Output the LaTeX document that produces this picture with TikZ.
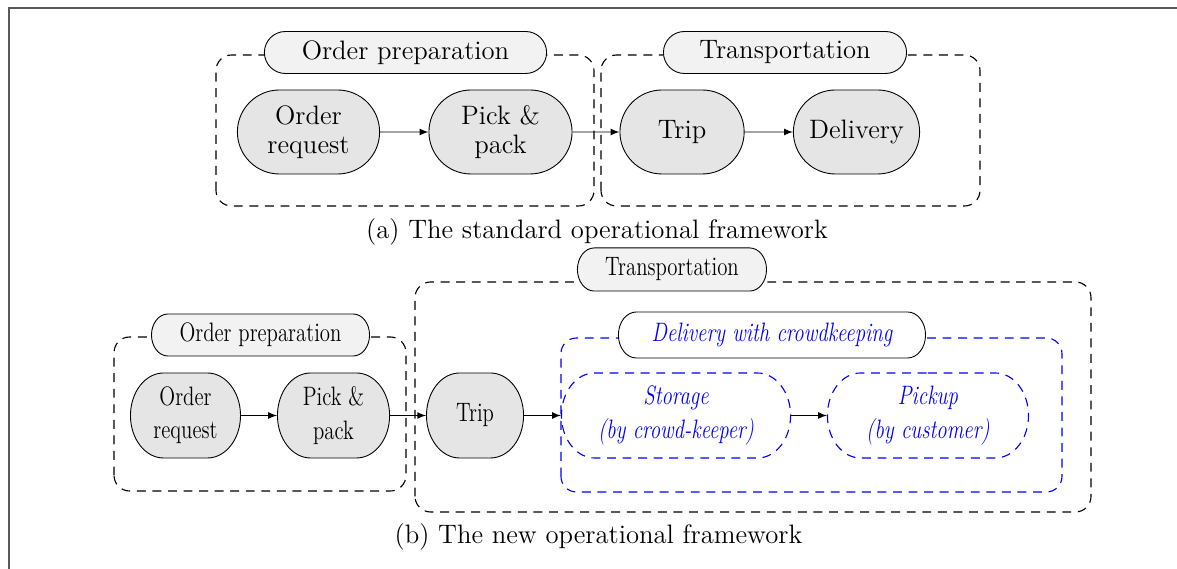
\documentclass[tikz,border=0pt]{standalone}
\usepackage{tikz}
\usetikzlibrary{arrows,shapes,positioning}
\definecolor{stagegray}{RGB}{229,229,229}
\definecolor{phasegray}{RGB}{242,242,242}
\definecolor{crowdblue}{RGB}{0,0,255}
\tikzstyle{stage} = [rounded rectangle, minimum height=37.8pt, inner sep=2pt, align=center, draw=black, fill=stagegray]
\tikzstyle{substage} = [rounded rectangle, minimum height=38.25pt, inner sep=2pt, align=center, draw=crowdblue, line width=0.5pt, dash pattern=on 4pt off 3pt, text=crowdblue, font=\fontsize{12}{15}\selectfont\itshape]
\tikzstyle{phase} = [rounded rectangle, minimum height=18.9pt, inner sep=2pt, draw=black, fill=phasegray]
\tikzstyle{group} = [draw, line width=0.5pt, dash pattern=on 4pt off 3pt, rounded corners=7pt]
\tikzstyle{arrow} = [thin,->,>=latex]

\begin{document}
\begin{tikzpicture}[x=0.45pt, y=0.45pt, node distance=80pt]
\useasboundingbox (0,0) rectangle (1177,569);
% page frame
\draw[black!65, line width=0.9pt] (8.5,0) -- (8.5,560.5) -- (1177,560.5);

% (a) standard framework
\begin{scope}[font=\fontsize{12}{13}\selectfont]
\draw[group] (216,363) rectangle (594,514);
\draw[group] (601,363) rectangle (980,514);
\node (prep) [phase, minimum width=131pt] at (405.5,516.5) {Order preparation};
\node (trans) [phase, minimum width=113.4pt] at (785,516.5) {Transportation};

\node (order) [stage, minimum width=68pt] at (308.5,437) {Order\\request};
\node (pick) [stage, minimum width=68.4pt, right of=order, xshift=6.4pt] {Pick \&\\pack};
\node (trip) [stage, minimum width=59.9pt, right of=pick, xshift=1.7pt] {Trip};
\node (deliv) [stage, minimum width=60.8pt, right of=trip, xshift=-1.5pt] {Delivery};

\draw[arrow] (order) -- (pick);
\draw[arrow] (pick) -- (trip);
\draw[arrow] (trip) -- (deliv);

\node (capa) at (597,337.5) {(a) The standard operational framework};
\end{scope}

% (b) new framework, squeezed sideways
\begin{scope}[xscale=0.78, transform shape, font=\fontsize{12}{15}\selectfont]
\draw[group] (532.1,57) rectangle (1398.7,287);
\draw[group] (146.2,78) rectangle (520.5,232);
\draw[group, crowdblue] (719.2,77) rectangle (1361.5,231);
\node (trans2) [phase, minimum width=113.1pt, minimum height=19.4pt] at (861.5,299.5) {Transportation};
\node (prep2) [phase, minimum width=129.8pt] at (334,234) {Order preparation};
\node (crowd) [phase, fill=white, minimum width=181.2pt, minimum height=20.7pt, text=crowdblue, font=\fontsize{12}{15}\selectfont\itshape] at (989.7,234) {Delivery with crowdkeeping};

\node (order2) [stage, minimum width=67.5pt, minimum height=38.25pt] at (237.8,153.5) {Order\\request};
\node (pick2) [stage, minimum width=68.7pt, minimum height=38.25pt] at (427.6,153.5) {Pick \&\\pack};
\node (trip2) [stage, minimum width=60pt, minimum height=38.25pt] at (609,153.5) {Trip};
\node (store) [substage, minimum width=136.2pt] at (866.7,153.5) {Storage\\(by crowd-keeper)};
\node (pickup) [substage, minimum width=120pt] at (1189.7,153.5) {Pickup\\(by customer)};

\draw[arrow] (order2) -- (pick2);
\draw[arrow] (pick2) -- (trip2);
\draw[arrow] (trip2) -- (store);
\draw[arrow] (store) -- (pickup);
\end{scope}

\node (capb) [font=\fontsize{12}{13}\selectfont] at (598.5,32) {(b) The new operational framework};
\end{tikzpicture}
\end{document}
